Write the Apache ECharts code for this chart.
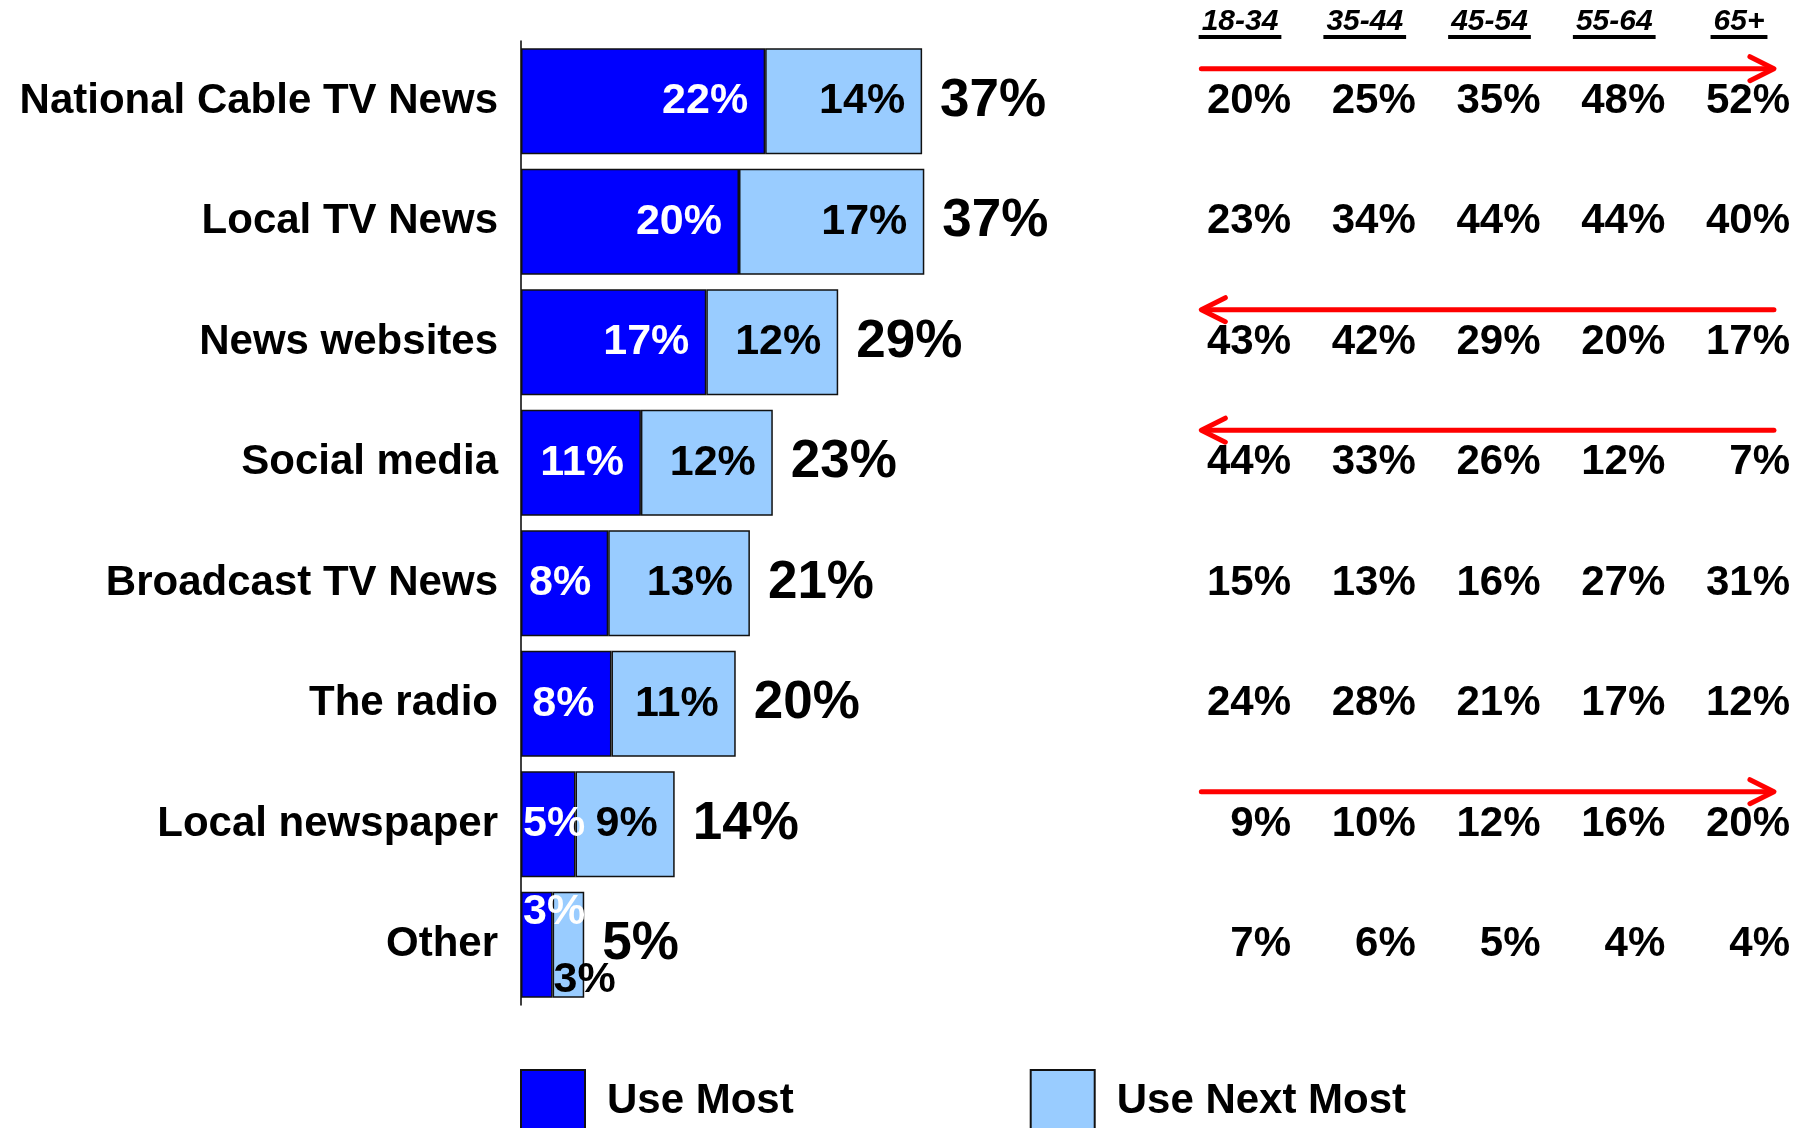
<!DOCTYPE html>
<html>
<head>
<meta charset="utf-8">
<script src="https://cdn.jsdelivr.net/npm/echarts@6/dist/echarts.min.js"></script>
<style>
html,body{margin:0;padding:0;background:#fff;}
#chart{width:1807px;height:1128px;}
</style>
</head>
<body>
<div id="chart"></div>
<script>
// ---- data ----
const categories = ['National Cable TV News','Local TV News','News websites','Social media','Broadcast TV News','The radio','Local newspaper','Other'];
const useMost     = [22.4, 20.0, 17.0, 11.0, 8.0, 8.3, 5.0, 2.9];
const useNextMost = [14.4, 17.0, 12.1, 12.1, 13.0, 11.4, 9.1, 2.9];
const totals      = [37, 37, 29, 23, 21, 20, 14, 5];

const ageGroups = ['18-34','35-44','45-54','55-64','65+'];
const age1834 = [20, 23, 43, 44, 15, 24, 9, 7];
const age3544 = [25, 34, 42, 33, 13, 28, 10, 6];
const age4554 = [35, 44, 29, 26, 16, 21, 12, 5];
const age5564 = [48, 44, 20, 12, 27, 17, 16, 4];
const age65   = [52, 40, 17, 7, 31, 12, 20, 4];
const ageValues = [age1834, age3544, age4554, age5564, age65];

const arrowRows = [0, 2, 3, 6];
const arrowDirections = ['right', 'left', 'left', 'right'];

// ---- styles ----
const FONT = '"Liberation Sans", Arial, Helvetica, sans-serif';
const BLUE = '#0000FF';
const LIGHT = '#99CCFF';

const chart = echarts.init(document.getElementById('chart'), null, {renderer: 'canvas'});

const measureCtx = document.createElement('canvas').getContext('2d');
function textWidth(t, font) { measureCtx.font = font; return measureCtx.measureText(t).width; }

const tableData = [];
ageValues.forEach((col, c) => col.forEach((v, r) => tableData.push([c, r, v])));

const option = {
  animation: false,
  backgroundColor: '#fff',
  textStyle: {fontFamily: FONT},
  legend: {
    data: ['Use Most', 'Use Next Most'],
    left: 520,
    top: 1069,
    padding: 0,
    itemWidth: 64,
    itemHeight: 62,
    itemGap: 236,
    icon: 'rect',
    selectedMode: false,
    textStyle: {fontSize: 42, fontWeight: 'bold', color: '#000', fontFamily: FONT, padding: [0, 0, 0, 17]}
  },
  grid: [
    {left: 521, top: 41, width: 1090, height: 964},
    {left: 1240, top: 41, width: 499, height: 964}
  ],
  xAxis: [
    {type: 'value', gridIndex: 0, min: 0, max: 100, show: false},
    {type: 'value', gridIndex: 1, min: 0, max: 4, show: false}
  ],
  yAxis: [
    {
      type: 'category', gridIndex: 0, data: categories, inverse: true,
      axisLine: {show: true, lineStyle: {color: '#000', width: 1.5}},
      axisTick: {show: false},
      splitLine: {show: false},
      axisLabel: {margin: 23, fontSize: 42, fontWeight: 'bold', color: '#000', fontFamily: FONT}
    },
    {type: 'value', gridIndex: 1, min: -0.5, max: 7.5, inverse: true, show: false}
  ],
  series: [
    {
      name: 'Use Most', type: 'bar', stack: 'a', barWidth: 106,
      xAxisIndex: 0, yAxisIndex: 0,
      itemStyle: {color: BLUE, borderColor: '#111', borderWidth: 1.5},
      label: {
        show: true, position: 'insideRight', distance: 17,
        color: '#fff', fontSize: 43, fontWeight: 'bold', fontFamily: FONT,
        formatter: p => Math.round(p.value) + '%'
      },
      data: useMost.map(v => {
        const item = {value: v};
        if (v < 6) item.label = {position: 'insideLeft', distance: 2};
        if (v < 4) item.label.offset = [0, -33];
        return item;
      })
    },
    {
      name: 'Use Next Most', type: 'bar', stack: 'a', barWidth: 106,
      xAxisIndex: 0, yAxisIndex: 0,
      itemStyle: {color: LIGHT, borderColor: '#111', borderWidth: 1.5},
      label: {
        show: true, position: 'insideRight', distance: 17,
        color: '#000', fontSize: 43, fontWeight: 'bold', fontFamily: FONT,
        formatter: p => Math.round(p.value) + '%'
      },
      data: useNextMost.map(v => {
        const item = {value: v};
        if (v < 4) item.label = {position: 'insideLeft', distance: 1, offset: [0, 35]};
        return item;
      })
    },
    {
      name: 'Total', type: 'bar', stack: 'a', barWidth: 106,
      xAxisIndex: 0, yAxisIndex: 0,
      itemStyle: {color: 'transparent', borderWidth: 0},
      label: {
        show: true, position: 'right', distance: 18,
        color: '#000', fontSize: 53, fontWeight: 'bold', fontFamily: FONT,
        formatter: p => totals[p.dataIndex] + '%'
      },
      data: totals.map(() => 0)
    },
    {
      name: 'table', type: 'custom', coordinateSystem: 'cartesian2d',
      xAxisIndex: 1, yAxisIndex: 1, silent: true,
      data: tableData,
      renderItem: (params, api) => {
        const p = api.coord([api.value(0), api.value(1)]);
        return {
          type: 'text', x: p[0] + 51, y: p[1],
          style: {text: api.value(2) + '%', align: 'right', verticalAlign: 'middle',
                  font: 'bold 42px ' + FONT, fill: '#000'}
        };
      }
    },
    {
      name: 'headers', type: 'custom', coordinateSystem: 'cartesian2d',
      xAxisIndex: 1, yAxisIndex: 1, silent: true,
      data: ageGroups.map((g, i) => [i, -0.5]),
      renderItem: (params, api) => {
        const p = api.coord([api.value(0), api.value(1)]);
        const txt = ageGroups[params.dataIndex];
        const font = 'italic bold 30px ' + FONT;
        const w = textWidth(txt, font) + 6;
        return {
          type: 'group',
          children: [
            {type: 'text', x: p[0], y: p[1] - 19,
             style: {text: txt, align: 'center', verticalAlign: 'middle', font: font, fill: '#000'}},
            {type: 'rect', shape: {x: p[0] - w / 2, y: p[1] - 6, width: w, height: 4},
             style: {fill: '#000'}}
          ]
        };
      }
    },
    {
      name: 'arrows', type: 'custom', coordinateSystem: 'cartesian2d',
      xAxisIndex: 1, yAxisIndex: 1, silent: true,
      data: arrowRows.map((r, i) => [r, arrowDirections[i] === 'right' ? 1 : -1]),
      renderItem: (params, api) => {
        const row = api.value(0);
        const dir = api.value(1);
        const y = api.coord([0, row - 0.27])[1];
        const xL = api.coord([-0.31, 0])[0];
        const xR = api.coord([4.28, 0])[0];
        const tip = dir > 0 ? xR : xL;
        const tail = dir > 0 ? xL : xR;
        const back = tip - dir * 24;
        const st = {stroke: '#FF0000', lineWidth: 5, lineCap: 'round', lineJoin: 'round', fill: null};
        return {
          type: 'group',
          children: [
            {type: 'line', shape: {x1: tail, y1: y, x2: tip - dir * 2, y2: y}, style: st},
            {type: 'polyline', shape: {points: [[back, y - 12], [tip, y], [back, y + 12]]}, style: st}
          ]
        };
      }
    }
  ]
};

chart.setOption(option);
</script>
</body>
</html>
